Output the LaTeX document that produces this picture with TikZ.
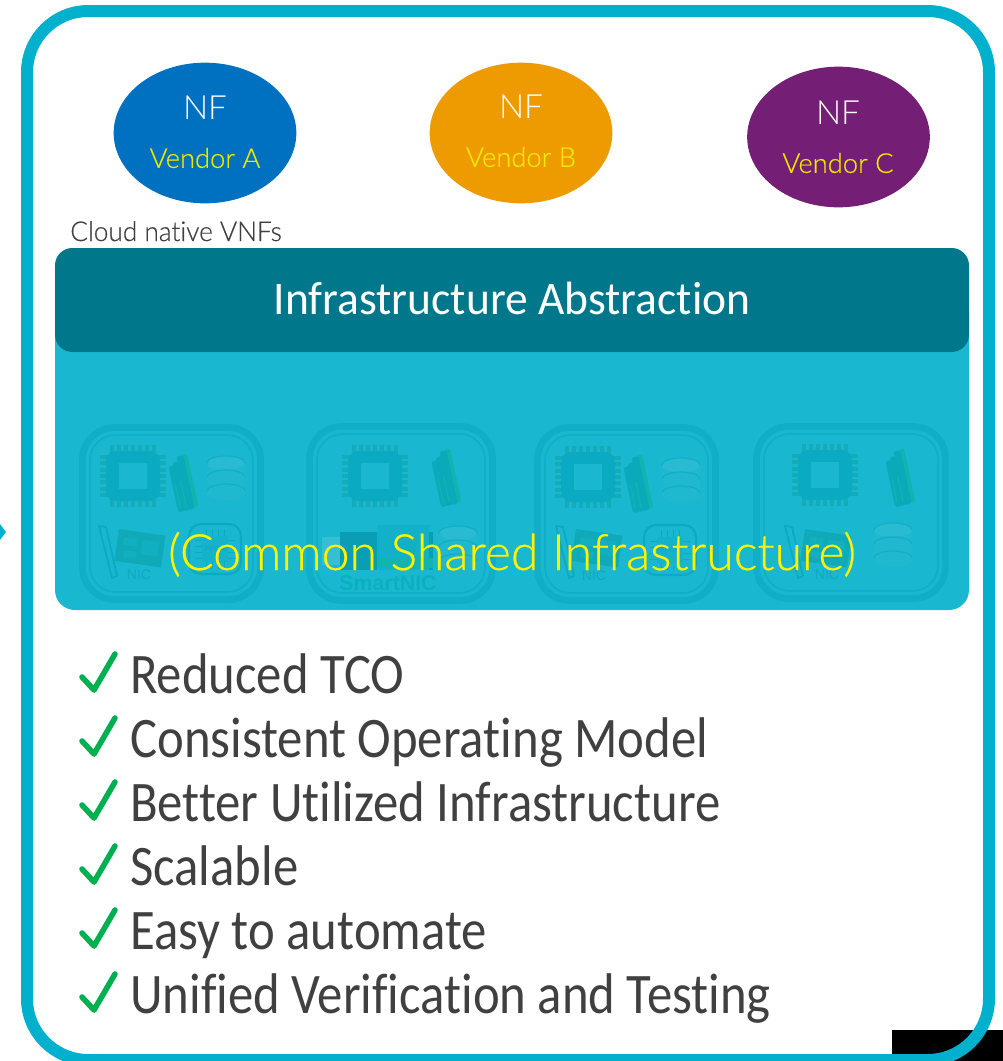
\documentclass[tikz,border=0pt]{standalone}
\usetikzlibrary{shapes.geometric}
\usepackage{fontspec}
\setmainfont{Carlito}
\newfontfamily\lst[FakeStretch=0.885,Ligatures=NoCommon]{Carlito}
\newfontfamily\lsta[FakeStretch=0.975,Ligatures=NoCommon]{Carlito}
\newfontfamily\gill{Lato Light}
\newfontfamily\gillb[FakeBold=0.5,Ligatures=NoCommon]{Lato Light}
\newfontfamily\gilln[FakeStretch=0.96,FakeBold=0.4,Ligatures=NoCommon]{Lato Light}
\newfontfamily\icn{Liberation Sans}
\definecolor{frameC}{HTML}{00B0CC}
\definecolor{absC}{HTML}{00778A}
\definecolor{boxC}{HTML}{19B8D0}
\definecolor{ringC}{HTML}{10AEC7}
\definecolor{chipC}{HTML}{0AAAC2}
\definecolor{pinC}{HTML}{14ACB8}
\definecolor{ramC}{HTML}{0BAABB}
\definecolor{ramG}{HTML}{12B4B0}
\definecolor{diskC}{HTML}{20B8CF}
\definecolor{nicC}{HTML}{0FA9B8}
\definecolor{labC}{HTML}{12A8C0}
\definecolor{smartC}{HTML}{0BB0BE}
\definecolor{darkT}{HTML}{404040}
\definecolor{checkC}{HTML}{00B050}
\definecolor{vendY}{HTML}{EEE800}
\definecolor{vaC}{HTML}{0070C0}
\definecolor{vbC}{HTML}{ED9B00}
\definecolor{vcC}{HTML}{741F75}
\tikzset{
 x=.75pt,y=-.75pt,
 vendor/.style={ellipse,minimum width=137pt,minimum height=105.5pt,inner sep=0pt},
 nftext/.style={text=white,font=\gill\fontsize{25}{25}\selectfont,inner sep=0pt},
 vtext/.style={text=vendY,font=\gillb\fontsize{20.5}{20.5}\selectfont,inner sep=0pt},
 listitem/.style={anchor=base west,text=darkT,font=\lst\fontsize{43}{43}\selectfont,inner sep=0pt},
 ring/.style={rounded corners=24pt,draw=ringC,line width=5pt},
 ringin/.style={rounded corners=19pt,draw=ringC,line width=1.2pt},
 niclab/.style={text=labC,font=\icn\fontsize{10.5}{10.5}\selectfont,inner sep=0pt},
 checkmark/.pic={\draw[checkC,line width=4.2pt,line cap=round,line join=round] (-12,0)--(0,13)--(21,-23);},
 chipicon/.pic={
  \foreach \d in {-21,-14,-7,0,7,14,21}{
   \draw[pinC,line width=3pt] (\d,-31)--(\d,31);
   \draw[pinC,line width=3pt] (-33,\d*.9)--(33,\d*.9);}
  \fill[chipC,rounded corners=8pt] (-27,-25) rectangle (27,25);
  \fill[boxC] (-14,-13) rectangle (14,13);},
 ramicon/.pic={
  \begin{scope}[rotate=12]
  \fill[ramG,rounded corners=2pt] (1,-28) rectangle (7,27);
  \fill[ramC,rounded corners=2pt] (-4,-27) rectangle (3,28);
  \fill[ramC,rounded corners=2pt] (-9,-22) rectangle (-2,28);
  \fill[ramC,rounded corners=2pt] (-14,-19) rectangle (-7,28);
  \draw[ramG,line width=.9pt] (-11,0)--(-11,24);
  \draw[ramG,line width=.9pt] (-5,-2)--(-5,24);
  \end{scope}},
 diskicon/.pic={
  \fill[diskC] (-19,-15) arc[x radius=19,y radius=7,start angle=180,end angle=360]--(19,15) arc[x radius=19,y radius=7,start angle=0,end angle=180]--cycle;
  \fill[diskC!96!white] (0,-15) ellipse[x radius=19,y radius=7];
  \draw[ringC,line width=.9pt] (-19,-15) arc[x radius=19,y radius=7,start angle=180,end angle=360];
  \draw[ringC,line width=.9pt] (-19,-1) arc[x radius=19,y radius=7,start angle=180,end angle=360];
  \draw[ringC,line width=.9pt] (-19,13) arc[x radius=19,y radius=7,start angle=180,end angle=360];},
 nicicon/.pic={
  \draw[chipC,line width=1.3pt,line join=round] (-32,-25)--(-25,-24)--(-14,25)--(-19,27)--cycle;
  \begin{scope}[rotate=-8]
  \fill[nicC] (-15,-20) rectangle (32,12);
  \fill[ringC!70!ramG] (-9,-13) rectangle (5,-5);
  \fill[ringC!70!ramG] (10,-13) rectangle (27,2);
  \fill[ringC!70!ramG] (-7,0) rectangle (6,7);
  \end{scope}},
 fpgaicon/.pic={
  \draw[chipC,line width=1.6pt,rounded corners=9pt] (-26,-25) rectangle (26,25);
  \fill[ringC!60!boxC] (-13,-13) rectangle (13,13);
  \foreach \d in {-9,-3,3,9}{
   \draw[chipC,line width=.7pt] (\d,-20)--(\d,-13) (\d,13)--(\d,20) (-20,\d)--(-13,\d) (13,\d)--(20,\d);}
  \node[text=chipC,font=\icn\fontsize{5.5}{5.5}\selectfont,inner sep=0pt] (lab) at (0,0) {FPGA};},
 smarticon/.pic={
  \fill[diskC!90!white] (-18,12) rectangle (0,40);
  \fill[chipC!93!black] (0,7) rectangle (93,45);
  \fill[boxC!50!chipC] (37,0) rectangle (89,45);
  \fill[ramG] (37,33) rectangle (93,43);
  \fill[ringC] (50,17) rectangle (75,28);}
}
\begin{document}
\begin{tikzpicture}
\useasboundingbox (0,0) rectangle (1003,1061);
\clip (0,0) rectangle (1003,1061);
\fill[white] (0,0) rectangle (1003,1061);
\fill[black] (892,1030) rectangle (1003,1061);
\draw[frameC,line width=9pt,rounded corners=46pt] (27,11) rectangle (989,1060);
\fill[frameC] (0,524)--(6,532)--(0,540)--cycle;

\node[vendor,fill=vaC] (va) at (205,133) {};
\node[vendor,fill=vbC] (vb) at (521,133) {};
\node[vendor,fill=vcC] (vc) at (838.5,137) {};
\node[nftext] (na) at (205,108) {NF};
\node[nftext] (nb) at (521,107) {NF};
\node[nftext] (nc) at (838,113) {NF};
\node[vtext] (ta) at (205,158) {Vendor A};
\node[vtext] (tb) at (521,157) {Vendor B};
\node[vtext] (tc) at (838,163) {Vendor C};
\node[anchor=base west,inner sep=0pt,text=darkT,font=\gilln\fontsize{20.5}{20.5}\selectfont] (cn) at (70,241) {Cloud native VNFs};

\fill[boxC,rounded corners=15pt] (55,290) rectangle (969,610);
\foreach \a/\b/\c/\d in {79/424/264/603,306/423/496/604,534/424/719/604,753/423/949/602}{
 \draw[ring] (\a+3.5,\b+3.5) rectangle (\c-3.5,\d-3.5);
 \draw[ringin] (\a+11,\b+11) rectangle (\c-11,\d-11);}
\foreach \p in {(133,476),(375,476),(588,477),(825,475)} \pic at \p {chipicon};
\foreach \p in {(186,482),(449,477),(641,483),(903,477)} \pic at \p {ramicon};
\foreach \p in {(226,478),(458,548),(681,480),(893,545)} \pic at \p {diskicon};
\foreach \p in {(131,551),(588,551),(817,551)} \pic at \p {nicicon};
\foreach \p in {(215,549),(670,550)} \pic at \p {fpgaicon};
\pic at (340,525) {smarticon};
\node[niclab] (n1) at (139,575) {NIC};
\node[niclab] (n3) at (594,576) {NIC};
\node[niclab] (n4) at (827,575) {NIC};
\node[inner sep=0pt,text=smartC,font=\icn\bfseries\fontsize{16}{16}\selectfont] (sm) at (388,583) {SmartNIC};

\node[rectangle,rounded corners=13pt,fill=absC,minimum width=685.5pt,minimum height=78pt,inner sep=0pt] (abs) at (512,300) {};
\node[inner sep=0pt,text=white,font=\lsta\fontsize{35}{35}\selectfont] (abstext) at (512,298) {Infrastructure Abstraction};
\node[anchor=base,inner sep=0pt,text=yellow,font=\gillb\fontsize{37.5}{37.5}\selectfont] (common) at (512,570) {(Common Shared Infrastructure)};

\foreach \i/\y/\t in {1/693/Reduced TCO,2/757/Consistent Operating Model,3/821/Better Utilized Infrastructure,4/885/Scalable,5/949/Easy to automate,6/1013/Unified Verification and Testing}{
 \node[listitem] (item\i) at (130,\y) {\t};
 \pic at (94,\y-16) {checkmark};}
\end{tikzpicture}
\end{document}
